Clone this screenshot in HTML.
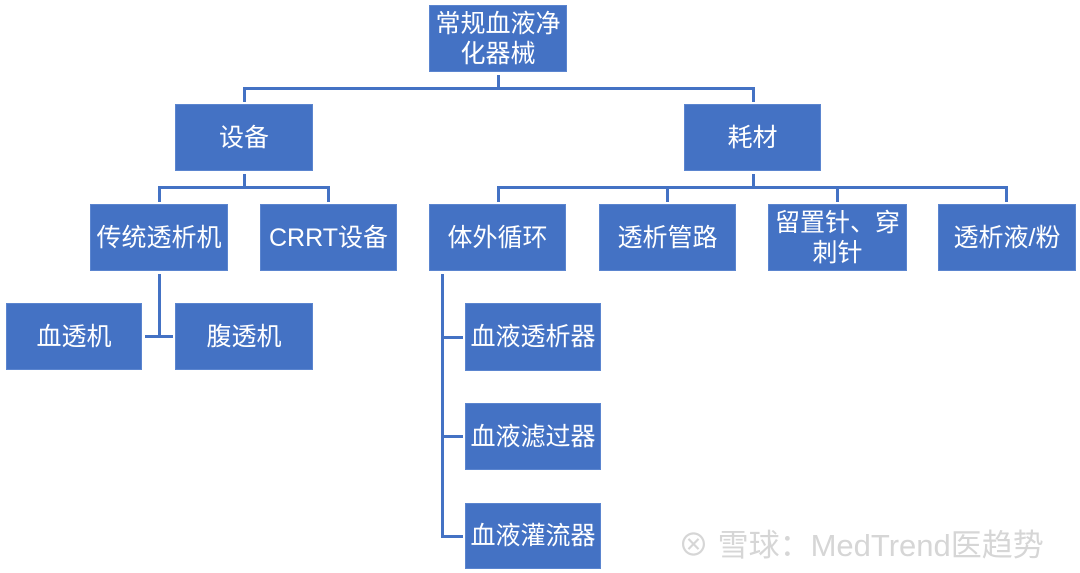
<!DOCTYPE html>
<html><head><meta charset="utf-8"><style>
body{margin:0;width:1080px;height:573px;background:#fff;position:relative;overflow:hidden;font-family:"Liberation Sans","Noto Sans CJK SC",sans-serif;}
.b{position:absolute;background:#4472C4;border:1px solid #5b85cf;box-sizing:border-box;color:#fff;font-size:25px;display:flex;align-items:center;justify-content:center;text-align:center;line-height:30px;}
.l{position:absolute;background:#4472C4;}
.wm{position:absolute;left:678px;top:520px;font-size:31px;color:#d6d6d6;white-space:nowrap;}
</style></head><body>
<div class="b" style="left:429px;top:5px;width:138px;height:67px;padding:0 2px">常规血液净化器械</div>
<div class="b" style="left:175px;top:104px;width:138px;height:67px">设备</div>
<div class="b" style="left:684px;top:104px;width:137px;height:67px">耗材</div>
<div class="b" style="left:90px;top:204px;width:138px;height:67px">传统透析机</div>
<div class="b" style="left:260px;top:204px;width:137px;height:67px">CRRT设备</div>
<div class="b" style="left:6px;top:303px;width:136px;height:67px">血透机</div>
<div class="b" style="left:175px;top:303px;width:138px;height:67px">腹透机</div>
<div class="b" style="left:429px;top:204px;width:137px;height:67px">体外循环</div>
<div class="b" style="left:599px;top:204px;width:137px;height:67px">透析管路</div>
<div class="b" style="left:768px;top:204px;width:139px;height:67px;padding:0 2px">留置针、穿刺针</div>
<div class="b" style="left:938px;top:204px;width:138px;height:67px">透析液/粉</div>
<div class="b" style="left:465px;top:303px;width:136px;height:68px">血液透析器</div>
<div class="b" style="left:465px;top:403px;width:136px;height:67px">血液滤过器</div>
<div class="b" style="left:465px;top:503px;width:136px;height:66px">血液灌流器</div>
<div class="l" style="left:497px;top:75px;width:3px;height:14px"></div>
<div class="l" style="left:243px;top:87px;width:512px;height:3px"></div>
<div class="l" style="left:243px;top:87px;width:3px;height:15px"></div>
<div class="l" style="left:752px;top:87px;width:3px;height:15px"></div>
<div class="l" style="left:243px;top:174px;width:3px;height:13px"></div>
<div class="l" style="left:158px;top:186px;width:172px;height:3px"></div>
<div class="l" style="left:158px;top:186px;width:3px;height:16px"></div>
<div class="l" style="left:327px;top:186px;width:3px;height:16px"></div>
<div class="l" style="left:158px;top:274px;width:3px;height:63px"></div>
<div class="l" style="left:145px;top:335px;width:28px;height:3px"></div>
<div class="l" style="left:752px;top:174px;width:3px;height:13px"></div>
<div class="l" style="left:497px;top:186px;width:511px;height:3px"></div>
<div class="l" style="left:497px;top:186px;width:3px;height:16px"></div>
<div class="l" style="left:666px;top:186px;width:3px;height:16px"></div>
<div class="l" style="left:836px;top:186px;width:3px;height:16px"></div>
<div class="l" style="left:1005px;top:186px;width:3px;height:16px"></div>
<div class="l" style="left:441px;top:274px;width:3px;height:264px"></div>
<div class="l" style="left:441px;top:336px;width:22px;height:3px"></div>
<div class="l" style="left:441px;top:435px;width:22px;height:3px"></div>
<div class="l" style="left:441px;top:535px;width:22px;height:3px"></div>
<div class="wm">⊗ 雪球：MedTrend医趋势</div>
</body></html>
